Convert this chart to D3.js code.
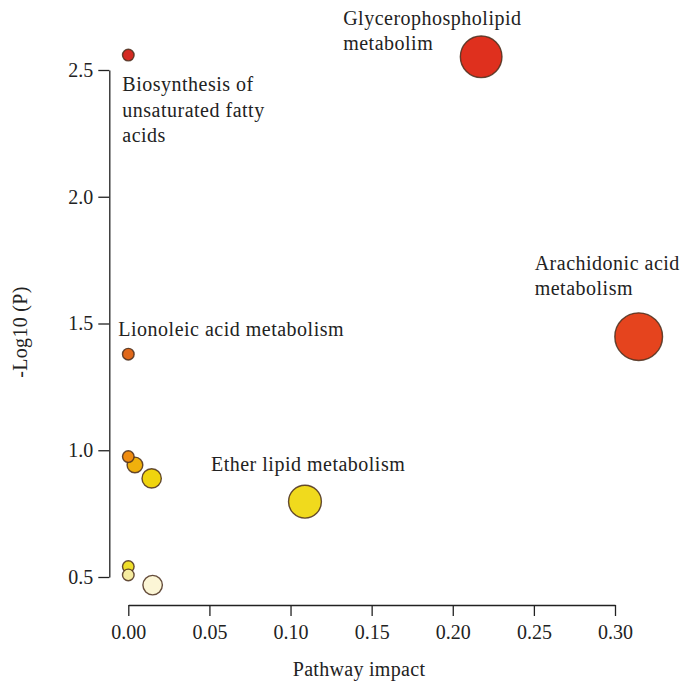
<!DOCTYPE html>
<html>
<head>
<meta charset="utf-8">
<script src="https://cdn.jsdelivr.net/npm/d3@7"></script>
<style>
  html, body { margin: 0; padding: 0; background: #fff; }
  svg text { font-family: "Liberation Serif", "DejaVu Serif", serif; fill: #222; }
</style>
</head>
<body>
<svg id="chart" width="682" height="689"></svg>
<script>
// Pathway topology results: impact vs. -log10(p)
const pathways = [
  "Biosynthesis of unsaturated fatty acids",
  "Glycerophospholipid metabolism",
  "Arachidonic acid metabolism",
  "Linoleic acid metabolism",
  "Pathway 5",
  "Pathway 6",
  "Pathway 7",
  "Ether lipid metabolism",
  "Pathway 9",
  "Pathway 10",
  "Pathway 11"
];
const impact = [0.000, 0.2175, 0.3146, 0.000, 0.000, 0.0041, 0.0144, 0.1089, 0.000, 0.000, 0.015];
const logP   = [2.559, 2.552, 1.448, 1.379, 0.975, 0.942, 0.889, 0.797, 0.541, 0.508, 0.468];

const xTicks = [0, 0.05, 0.10, 0.15, 0.20, 0.25, 0.30];
const yTicks = [0.5, 1.0, 1.5, 2.0, 2.5];

// Labelled pathways (index into the arrays above) with their text lines
const labelIdx   = [0, 1, 2, 3, 7];
const labelLines = [
  ["Biosynthesis of", "unsaturated fatty", "acids"],
  ["Glycerophospholipid", "metabolim"],
  ["Arachidonic acid", "metabolism"],
  ["Lionoleic acid metabolism"],
  ["Ether lipid metabolism"]
];
// label offsets from each point (pixels) - layout only
const labelOffset = [[-6, 36], [-138, -32], [-104, -67], [-10, -18], [-94, -31]];

const svg = d3.select("#chart");

const x = d3.scaleLinear().domain([0, 0.30]).range([128.3, 615]);
const y = d3.scaleLinear().domain([0.5, 2.5]).range([577, 70]);
const r = d3.scaleSqrt().domain([0, 0.32]).range([5.8, 24]);

// colour follows the rank of -log10(p): pale yellow (weak) to red (strong)
const order = d3.range(logP.length).sort((a, b) => logP[a] - logP[b]);
const rank = new Array(logP.length);
order.forEach((idx, k) => { rank[idx] = k; });
const color = d3.scaleLinear()
  .domain([0, 1, 2, 4, 5, 6, 7, 8, 9, 10])
  .range(["#fcf6d6", "#f6eca0", "#efdf2c", "#f0d40e", "#f0b00c", "#ef8c10", "#e0681a", "#e5441e", "#df301e", "#d42a22"])
  .interpolate(d3.interpolateRgb);

const fontSize = 20;

// axes
const xAxis = svg.append("g")
  .attr("transform", "translate(0,605)")
  .call(d3.axisBottom(x).tickValues(xTicks).tickFormat(d3.format(".2f"))
    .tickSize(11).tickSizeOuter(0).tickPadding(9));
const yAxis = svg.append("g")
  .attr("transform", "translate(109.3,0)")
  .call(d3.axisLeft(y).tickValues(yTicks).tickFormat(d3.format(".1f"))
    .tickSize(11).tickSizeOuter(0).tickPadding(5));

[xAxis, yAxis].forEach(g => {
  g.selectAll("path, line").attr("stroke", "#222").attr("stroke-width", 1.3);
  g.selectAll("text").attr("font-size", fontSize)
    .attr("font-family", "Liberation Serif, DejaVu Serif, serif").attr("fill", "#222");
});

// axis titles
svg.append("text")
  .attr("x", 359).attr("y", 676)
  .attr("text-anchor", "middle")
  .attr("font-size", fontSize)
  .attr("letter-spacing", 0.3)
  .text("Pathway impact");
svg.append("text")
  .attr("transform", "translate(27,332) rotate(-90)")
  .attr("text-anchor", "middle")
  .attr("font-size", fontSize)
  .attr("letter-spacing", 0.3)
  .text("-Log10 (P)");

// bubbles: draw larger ones first
const idx = d3.range(pathways.length).sort((a, b) => impact[b] - impact[a]);
svg.append("g").selectAll("circle")
  .data(idx)
  .join("circle")
  .attr("cx", i => x(impact[i]))
  .attr("cy", i => y(logP[i]))
  .attr("r", i => r(impact[i]))
  .attr("fill", i => color(rank[i]))
  .attr("stroke", "#4a2e1c")
  .attr("stroke-opacity", 0.85)
  .attr("stroke-width", 1.4);

// pathway labels
const labels = svg.append("g").selectAll("text")
  .data(labelIdx)
  .join("text")
  .attr("font-size", fontSize)
  .attr("letter-spacing", 0.5)
  .attr("x", (i, k) => x(impact[i]) + labelOffset[k][0])
  .attr("y", (i, k) => y(logP[i]) + labelOffset[k][1]);
labels.each(function(i, k) {
  const t = d3.select(this);
  const x0 = +t.attr("x");
  labelLines[k].forEach((line, j) => {
    t.append("tspan").attr("x", x0).attr("dy", j === 0 ? 0 : 25.5).text(line);
  });
});
</script>
</body>
</html>
